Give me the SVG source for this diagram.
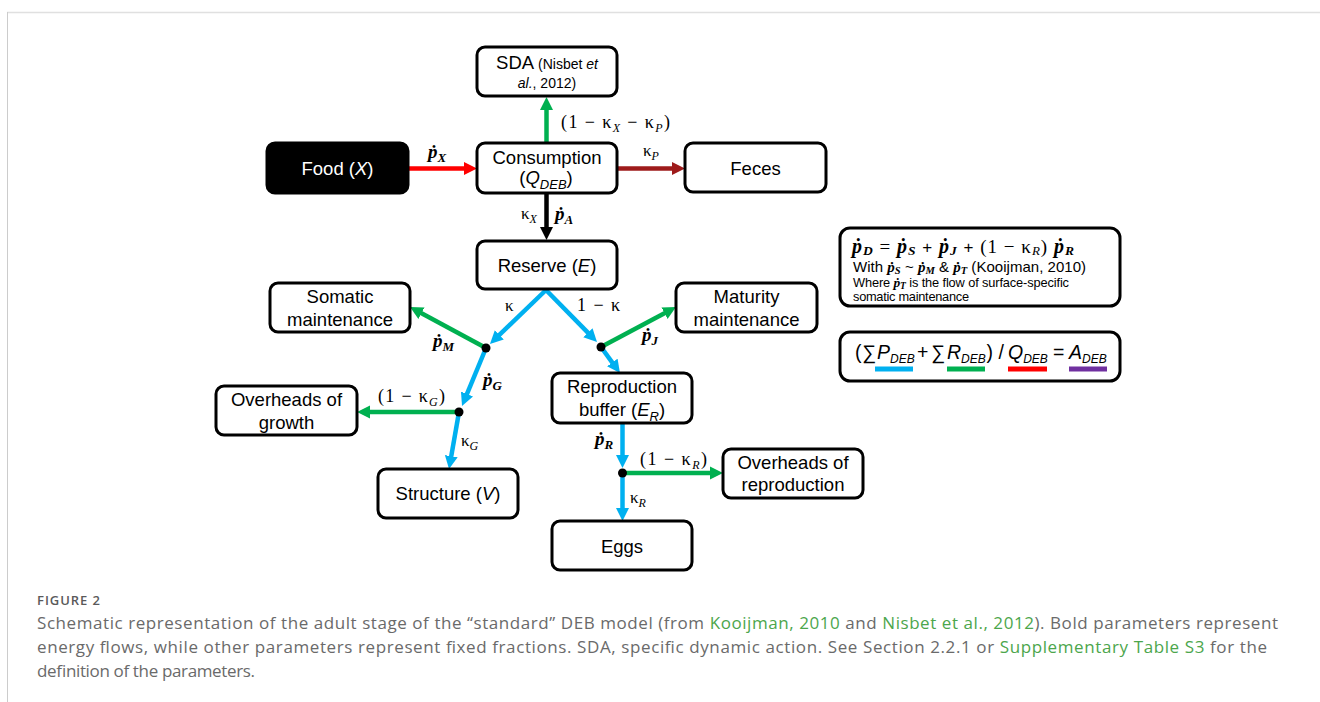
<svg xmlns="http://www.w3.org/2000/svg" width="1320" height="702" viewBox="0 0 1320 702">
<style>
.box{fill:#fff;stroke:#000;stroke-width:3}
.lbl{font-family:"Liberation Sans",Arial,sans-serif;font-size:18.5px;text-anchor:middle;fill:#000}
.m{font-family:"Liberation Serif","DejaVu Serif",serif;fill:#000}
.pb{font-weight:bold;font-style:italic}
.it{font-style:italic}
.sans{font-family:"Liberation Sans",Arial,sans-serif;fill:#000}
.ln{fill:none;stroke-width:4.5}
.cap{font-family:"Open Sans","Liberation Sans",sans-serif;font-size:17px;fill:#6a6a6a}
.lnk{fill:#4ca64c}
</style>
<defs>
<marker id="aRed" markerUnits="userSpaceOnUse" markerWidth="14" markerHeight="14" viewBox="0 0 14 14" refX="1" refY="7" orient="auto"><path d="M0,0.5 L13,7 L0,13.5 z" fill="#ff0000"/></marker>
<marker id="aDred" markerUnits="userSpaceOnUse" markerWidth="14" markerHeight="14" viewBox="0 0 14 14" refX="1" refY="7" orient="auto"><path d="M0,0.5 L13,7 L0,13.5 z" fill="#9e1b1b"/></marker>
<marker id="aGreen" markerUnits="userSpaceOnUse" markerWidth="14" markerHeight="14" viewBox="0 0 14 14" refX="1" refY="7" orient="auto"><path d="M0,0.5 L13,7 L0,13.5 z" fill="#00b050"/></marker>
<marker id="aBlack" markerUnits="userSpaceOnUse" markerWidth="14" markerHeight="14" viewBox="0 0 14 14" refX="1" refY="7" orient="auto"><path d="M0,0.5 L13,7 L0,13.5 z" fill="#000"/></marker>
<marker id="aBlue" markerUnits="userSpaceOnUse" markerWidth="14" markerHeight="14" viewBox="0 0 14 14" refX="1" refY="7" orient="auto"><path d="M0,0.5 L13,7 L0,13.5 z" fill="#00b0f0"/></marker>
</defs>
<rect x="0" y="0" width="1320" height="702" fill="#fff"/>
<line x1="7" y1="12.5" x2="1320" y2="12.5" stroke="#e0e0e0" stroke-width="1.5"/>
<line x1="7.5" y1="12" x2="7.5" y2="702" stroke="#cccccc" stroke-width="1"/>

<g id="connectors">
<line class="ln" stroke="#ff0000" x1="408" y1="168.5" x2="465" y2="168.5" marker-end="url(#aRed)"/>
<line class="ln" stroke="#9e1b1b" x1="617" y1="168.5" x2="673" y2="168.5" marker-end="url(#aDred)"/>
<line class="ln" stroke="#00b050" x1="546.5" y1="143" x2="546.5" y2="109" marker-end="url(#aGreen)"/>
<line class="ln" stroke="#000" x1="546.5" y1="193" x2="546.5" y2="228" marker-end="url(#aBlack)"/>
<line class="ln" stroke="#00b0f0" x1="546" y1="290" x2="498.6" y2="335.6" marker-end="url(#aBlue)"/>
<line class="ln" stroke="#00b0f0" x1="546" y1="290" x2="588.6" y2="333.4" marker-end="url(#aBlue)"/>
<line class="ln" stroke="#00b050" x1="486" y1="348" x2="420.6" y2="312.7" marker-end="url(#aGreen)"/>
<line class="ln" stroke="#00b0f0" x1="486" y1="348" x2="466.6" y2="394.9" marker-end="url(#aBlue)"/>
<line class="ln" stroke="#00b050" x1="459" y1="412" x2="369" y2="412" marker-end="url(#aGreen)"/>
<line class="ln" stroke="#00b0f0" x1="459" y1="412" x2="451.1" y2="457.2" marker-end="url(#aBlue)"/>
<line class="ln" stroke="#00b050" x1="601" y1="347" x2="665.4" y2="312.7" marker-end="url(#aGreen)"/>
<line class="ln" stroke="#00b0f0" x1="601" y1="347" x2="612.9" y2="363.3" marker-end="url(#aBlue)"/>
<line class="ln" stroke="#00b0f0" x1="622.5" y1="423" x2="622.5" y2="456" marker-end="url(#aBlue)"/>
<line class="ln" stroke="#00b050" x1="622.5" y1="473" x2="711" y2="473" marker-end="url(#aGreen)"/>
<line class="ln" stroke="#00b0f0" x1="622.5" y1="473" x2="622.5" y2="509" marker-end="url(#aBlue)"/>
<circle cx="486" cy="348" r="4.5" fill="#000"/>
<circle cx="459" cy="412" r="4.5" fill="#000"/>
<circle cx="601" cy="347" r="4.5" fill="#000"/>
<circle cx="622.5" cy="473" r="4.5" fill="#000"/>
</g>

<g id="sda">
<rect class="box" x="477" y="47" width="140" height="49" rx="8"/>
<text class="lbl" x="547" y="69">SDA<tspan font-size="14"> (Nisbet </tspan><tspan font-size="14" class="it">et</tspan></text>
<text class="lbl" x="547" y="88"><tspan font-size="14" class="it">al.</tspan><tspan font-size="14">, 2012)</tspan></text>
</g>
<g id="food">
<rect x="267" y="143" width="141" height="50" rx="8" fill="#000" stroke="#000" stroke-width="3"/>
<text class="lbl" x="337.5" y="175" style="fill:#fff">Food (<tspan class="it">X</tspan>)</text>
</g>
<g id="consumption">
<rect class="box" x="477" y="143" width="140" height="50" rx="8"/>
<text class="lbl" x="547" y="164">Consumption</text>
<text class="lbl" x="546" y="184">(<tspan class="it">Q</tspan><tspan class="it" font-size="13" dy="5">DEB</tspan><tspan dy="-5">)</tspan></text>
</g>
<g id="feces">
<rect class="box" x="685" y="143" width="141" height="49" rx="8"/>
<text class="lbl" x="755.5" y="175">Feces</text>
</g>
<g id="reserve">
<rect class="box" x="477" y="241" width="140" height="48" rx="8"/>
<text class="lbl" x="547" y="272">Reserve (<tspan class="it">E</tspan>)</text>
</g>
<g id="somatic">
<rect class="box" x="270" y="283" width="140" height="49" rx="8"/>
<text class="lbl" x="340" y="303">Somatic</text>
<text class="lbl" x="340" y="326">maintenance</text>
</g>
<g id="maturity">
<rect class="box" x="676" y="283" width="141" height="49" rx="8"/>
<text class="lbl" x="746.5" y="303">Maturity</text>
<text class="lbl" x="746.5" y="326">maintenance</text>
</g>
<g id="overheads-growth">
<rect class="box" x="216" y="386" width="141" height="49" rx="8"/>
<text class="lbl" x="286.5" y="406">Overheads of</text>
<text class="lbl" x="286.5" y="429">growth</text>
</g>
<g id="structure">
<rect class="box" x="378" y="469" width="140" height="49" rx="8"/>
<text class="lbl" x="448" y="500">Structure (<tspan class="it">V</tspan>)</text>
</g>
<g id="repro-buffer">
<rect class="box" x="552" y="373" width="140" height="50" rx="8"/>
<text class="lbl" x="622" y="393">Reproduction</text>
<text class="lbl" x="622" y="416">buffer (<tspan class="it">E</tspan><tspan class="it" font-size="13" dy="5">R</tspan><tspan dy="-5">)</tspan></text>
</g>
<g id="overheads-repro">
<rect class="box" x="723" y="449" width="140" height="49" rx="8"/>
<text class="lbl" x="793" y="469">Overheads of</text>
<text class="lbl" x="793" y="491">reproduction</text>
</g>
<g id="eggs">
<rect class="box" x="552" y="521" width="140" height="49" rx="8"/>
<text class="lbl" x="622" y="553">Eggs</text>
</g>

<g id="flow-labels">
<text class="m" x="428" y="158"><tspan class="pb" font-size="19">ṗ</tspan><tspan class="pb" font-size="13" dy="4">X</tspan></text>
<text class="m" x="643" y="156" font-size="17">κ<tspan class="it" font-size="12" dy="4">P</tspan></text>
<text class="m" x="561" y="128" font-size="18" textLength="109">(1 − κ<tspan class="it" font-size="12" dy="4">X</tspan><tspan dy="-4"> − κ</tspan><tspan class="it" font-size="12" dy="4">P</tspan><tspan dy="-4">)</tspan></text>
<text class="m" x="521" y="219" font-size="17">κ<tspan class="it" font-size="12" dy="4">X</tspan></text>
<text class="m" x="555" y="220"><tspan class="pb" font-size="19">ṗ</tspan><tspan class="pb" font-size="13" dy="4">A</tspan></text>
<text class="m" x="505" y="311" font-size="17">κ</text>
<text class="m" x="577" y="311" font-size="18" textLength="43">1 − κ</text>
<text class="m" x="433" y="347"><tspan class="pb" font-size="19">ṗ</tspan><tspan class="pb" font-size="13" dy="4">M</tspan></text>
<text class="m" x="642" y="341"><tspan class="pb" font-size="19">ṗ</tspan><tspan class="pb" font-size="13" dy="4">J</tspan></text>
<text class="m" x="483" y="386"><tspan class="pb" font-size="19">ṗ</tspan><tspan class="pb" font-size="13" dy="4">G</tspan></text>
<text class="m" x="378" y="402" font-size="18" textLength="67">(1 − κ<tspan class="it" font-size="12" dy="4">G</tspan><tspan dy="-4">)</tspan></text>
<text class="m" x="461" y="446" font-size="17">κ<tspan class="it" font-size="12" dy="4">G</tspan></text>
<text class="m" x="595" y="445"><tspan class="pb" font-size="19">ṗ</tspan><tspan class="pb" font-size="13" dy="4">R</tspan></text>
<text class="m" x="640" y="465" font-size="18" textLength="67">(1 − κ<tspan class="it" font-size="12" dy="4">R</tspan><tspan dy="-4">)</tspan></text>
<text class="m" x="630" y="503" font-size="17">κ<tspan class="it" font-size="12" dy="4">R</tspan></text>
</g>

<g id="equation-box">
<rect class="box" x="840" y="228" width="280" height="78" rx="10"/>
<text class="m" x="852" y="252.5" font-size="19" textLength="222"><tspan class="pb" font-size="20">ṗ</tspan><tspan class="pb" font-size="13.5" dy="2.5">D</tspan><tspan dy="-2.5"> = </tspan><tspan class="pb" font-size="20">ṗ</tspan><tspan class="pb" font-size="13.5" dy="2.5">S</tspan><tspan dy="-2.5" font-family="'Liberation Sans',sans-serif" font-size="17"> + </tspan><tspan class="pb" font-size="20">ṗ</tspan><tspan class="pb" font-size="13.5" dy="2.5">J</tspan><tspan dy="-2.5" font-family="'Liberation Sans',sans-serif" font-size="17"> + </tspan><tspan>(1 − κ</tspan><tspan class="it" font-size="13" dy="2.5">R</tspan><tspan dy="-2.5">) </tspan><tspan class="pb" font-size="20">ṗ</tspan><tspan class="pb" font-size="13.5" dy="2.5">R</tspan></text>
<text class="sans" x="853" y="271.5" font-size="15" textLength="233">With <tspan class="m pb" font-size="15">ṗ</tspan><tspan class="m pb" font-size="10.5" dy="2">S</tspan><tspan dy="-2"> ~ </tspan><tspan class="m pb" font-size="15">ṗ</tspan><tspan class="m pb" font-size="10.5" dy="2">M</tspan><tspan dy="-2"> &amp; </tspan><tspan class="m pb" font-size="15">ṗ</tspan><tspan class="m pb" font-size="10.5" dy="2">T</tspan><tspan dy="-2"> (Kooijman, 2010)</tspan></text>
<text class="sans" x="853" y="286.5" font-size="12.8" textLength="216">Where <tspan class="m pb" font-size="13.5">ṗ</tspan><tspan class="m pb" font-size="9.5" dy="2">T</tspan><tspan dy="-2"> is the flow of surface-specific</tspan></text>
<text class="sans" x="853" y="300.5" font-size="12.8" textLength="116">somatic maintenance</text>
</g>

<g id="ratio-box">
<rect class="box" x="840" y="332" width="280" height="49" rx="10"/>
<text class="sans" x="855" y="359" font-size="19.5">(</text>
<text class="sans" x="862" y="359" font-size="19.5">∑</text>
<text class="sans" x="877" y="359" font-size="19.5"><tspan class="it">P</tspan><tspan class="it" font-size="12" dy="4">DEB</tspan></text>
<text class="sans" x="917" y="359" font-size="19.5">+</text>
<text class="sans" x="931" y="359" font-size="19.5">∑</text>
<text class="sans" x="947" y="359" font-size="19.5"><tspan class="it">R</tspan><tspan class="it" font-size="12" dy="4">DEB</tspan></text>
<text class="sans" x="986.5" y="359" font-size="19.5">) /</text>
<text class="sans" x="1008" y="359" font-size="19.5"><tspan class="it">Q</tspan><tspan class="it" font-size="12" dy="4">DEB</tspan></text>
<text class="sans" x="1053" y="359" font-size="19.5">=</text>
<text class="sans" x="1069" y="359" font-size="19.5"><tspan class="it">A</tspan><tspan class="it" font-size="12" dy="4">DEB</tspan></text>
<rect x="875" y="366.5" width="38" height="5" fill="#00b0f0"/>
<rect x="947" y="366.5" width="38" height="5" fill="#00b050"/>
<rect x="1008" y="366.5" width="39" height="5" fill="#ff0000"/>
<rect x="1069" y="366.5" width="38" height="5" fill="#7030a0"/>
</g>

<g id="caption">
<text x="37" y="605" font-family="'Open Sans','Liberation Sans',sans-serif" font-size="13" font-weight="600" fill="#5a5a5a" textLength="63">FIGURE 2</text>
<text class="cap" x="37" y="629" textLength="1241">Schematic representation of the adult stage of the “standard” DEB model (from <tspan class="lnk">Kooijman, 2010</tspan> and <tspan class="lnk">Nisbet et al., 2012</tspan>). Bold parameters represent</text>
<text class="cap" x="37" y="653" textLength="1230">energy flows, while other parameters represent fixed fractions. SDA, specific dynamic action. See Section 2.2.1 or <tspan class="lnk">Supplementary Table S3</tspan> for the</text>
<text class="cap" x="37" y="677" textLength="218">definition of the parameters.</text>
</g>
</svg>
